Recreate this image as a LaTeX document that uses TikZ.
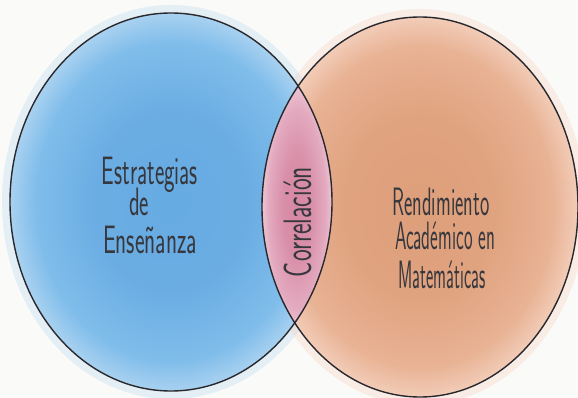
\documentclass[tikz,border=0pt]{standalone}
\usepackage{graphicx}
\pgfdeclareradialshading{blueshade}{\pgfpoint{0bp}{0bp}}{rgb(0bp)=(0.40,0.67,0.89); rgb(12bp)=(0.42,0.68,0.89); rgb(21bp)=(0.50,0.74,0.92); rgb(25bp)=(0.66,0.82,0.94); rgb(50bp)=(0.66,0.82,0.94)}
\pgfdeclareradialshading{orangeshade}{\pgfpoint{0bp}{0bp}}{rgb(0bp)=(0.87,0.62,0.48); rgb(12bp)=(0.88,0.64,0.50); rgb(21bp)=(0.91,0.70,0.58); rgb(25bp)=(0.95,0.80,0.72); rgb(50bp)=(0.95,0.80,0.72)}
\pgfdeclareradialshading{pinkshade}{\pgfpoint{0bp}{0bp}}{rgb(0bp)=(0.84,0.53,0.64); rgb(10bp)=(0.85,0.56,0.66); rgb(20bp)=(0.89,0.67,0.75); rgb(25bp)=(0.93,0.79,0.84); rgb(50bp)=(0.93,0.79,0.84)}
\definecolor{paper}{RGB}{250,250,248}
\definecolor{ink}{RGB}{40,40,45}
\definecolor{pen}{RGB}{55,55,62}
\definecolor{halob}{RGB}{175,212,240}
\definecolor{haloo}{RGB}{245,205,188}
\newcommand\hwtext[2]{\resizebox{#1}{1.2\height}{#2}}
\tikzset{
  outline/.style={draw=ink, line width=1.4pt},
  label/.style={inner sep=0pt, anchor=base, text=pen, font=\sffamily\fontsize{33}{40}\selectfont}
}
\begin{document}
\begin{tikzpicture}[x=1pt,y=-1pt]
\useasboundingbox[fill=paper] (0,0) rectangle (578,398);
% halos
\fill[halob, opacity=0.3] (171,202) ellipse [x radius=169pt, y radius=197pt];
\fill[haloo, opacity=0.3] (420,207) ellipse [x radius=166pt, y radius=198pt];
% fills
\shade[shading=blueshade] (171,202) ellipse [x radius=161pt, y radius=189pt];
\shade[shading=orangeshade] (420,207) ellipse [x radius=158pt, y radius=190pt];
\begin{scope}
  \clip (171,202) ellipse [x radius=161pt, y radius=189pt];
  \clip (420,207) ellipse [x radius=158pt, y radius=190pt];
  \shade[shading=pinkshade] (297,208) ellipse [x radius=36pt, y radius=125pt];
\end{scope}
% outlines
\draw[outline] (171,202) ellipse [x radius=161pt, y radius=189pt];
\draw[outline] (420,207) ellipse [x radius=158pt, y radius=190pt];
% texts
\node[label] (e1) at (150,185) {\hwtext{96pt}{Estrategias}};
\node[label] (e2) at (139,215) {\hwtext{20pt}{de}};
\node[label] (e3) at (150,253) {\hwtext{94pt}{Enseñanza}};
\node[label, rotate=90] (c) at (311,222) {\hwtext{110pt}{Correlación}};
\node[label] (r1) at (441,215) {\hwtext{97pt}{Rendimiento}};
\node[label] (r2) at (445,249) {\hwtext{100pt}{Académico en}};
\node[label] (r3) at (442,288) {\hwtext{87pt}{Matemáticas}};
\end{tikzpicture}
\end{document}
